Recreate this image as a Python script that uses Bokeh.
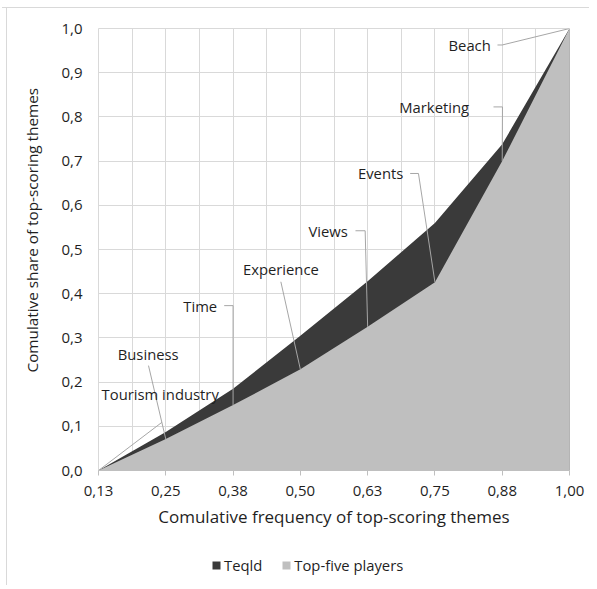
import math
from bokeh.plotting import figure
from bokeh.layouts import column
from bokeh.models import (Range1d, FixedTicker, Legend, LegendItem, Title,
                          CustomJSTickFormatter, ColumnDataSource)
from bokeh.embed import file_html
from bokeh.resources import INLINE
from bokeh.core.properties import value

# ---------------- data ----------------
freq = [0.125, 0.25, 0.375, 0.5, 0.625, 0.75, 0.875, 1.0]
freq_labels = ["0,13", "0,25", "0,38", "0,50", "0,63", "0,75", "0,88", "1,00"]
teqld = [0.0, 0.087, 0.185, 0.305, 0.428, 0.56, 0.738, 1.0]
top_five = [0.0, 0.071, 0.148, 0.229, 0.325, 0.426, 0.70, 1.0]
themes = ["Tourism industry", "Business", "Time", "Experience",
          "Views", "Events", "Marketing", "Beach"]
series_names = ["Teqld", "Top-five players"]
y_ticks = [0.0, 0.1, 0.2, 0.3, 0.4, 0.5, 0.6, 0.7, 0.8, 0.9, 1.0]

# ---------------- layout of annotations (data units) ----------------
label_xy = [(0.2396, 0.174), (0.2173, 0.264), (0.314, 0.373), (0.4638, 0.4565),
            (0.5517, 0.5424), (0.6492, 0.6734), (0.7486, 0.8226), (0.8145, 0.9627)]
leader_from = [[(0.2428, 0.109)],
               [(0.2179, 0.2373)],
               [(0.3585, 0.373), (0.375, 0.373)],
               [(0.4638, 0.427)],
               [(0.6024, 0.5424), (0.6204, 0.5424)],
               [(0.704, 0.672), (0.7194, 0.672)],
               [(0.8588, 0.8226), (0.8755, 0.8226)],
               [(0.8662, 0.9627), (0.8749, 0.9627)]]

FONT = "Open Sans"
TXT = "#1f1f1f"
DARK = "#3a3a3a"
LIGHT = "#bfbfbf"
GRID = "#d9d9d9"
LEAD = "#a6a6a6"

p = figure(width=587, height=532, x_range=Range1d(freq[0], freq[-1]),
           y_range=Range1d(0, 1), output_backend="svg", toolbar_location=None,
           min_border_left=96, min_border_right=20, min_border_top=20,
           min_border_bottom=70)
p.outline_line_color = GRID
p.background_fill_color = "white"
p.border_fill_color = None

r_teq = p.varea(x=freq, y1=[0] * len(freq), y2=teqld, fill_color=DARK)
r_top = p.varea(x=freq, y1=[0] * len(freq), y2=top_five, fill_color=LIGHT)

# grids
grid_x = sorted(freq + [(a + b) / 2 for a, b in zip(freq[:-1], freq[1:])])
p.xgrid.ticker = FixedTicker(ticks=grid_x)
p.ygrid.ticker = FixedTicker(ticks=y_ticks)
for g in (p.xgrid, p.ygrid):
    g.grid_line_color = GRID
    g.grid_line_width = 1

# x axis
xa = p.xaxis[0]
xa.ticker = FixedTicker(ticks=freq)
xa.formatter = CustomJSTickFormatter(args=dict(labels=freq_labels),
                                     code="return labels[index];")
xa.axis_line_color = LIGHT
xa.major_tick_line_color = LIGHT
xa.major_tick_out = 5
xa.major_tick_in = 0
xa.minor_tick_line_color = None
xa.major_label_standoff = 10
xa.major_label_text_font = FONT
xa.major_label_text_font_size = "15px"
xa.major_label_text_color = TXT
xa.axis_label = "Comulative frequency of top-scoring themes"
xa.axis_label_text_font = FONT
xa.axis_label_text_font_size = "17px"
xa.axis_label_text_font_style = "normal"
xa.axis_label_text_color = TXT
xa.axis_label_standoff = 6

# y axis
ya = p.yaxis[0]
ya.ticker = FixedTicker(ticks=y_ticks)
ya.formatter = CustomJSTickFormatter(code="return tick.toFixed(1).replace('.', ',');")
ya.axis_line_color = None
ya.major_tick_line_color = None
ya.minor_tick_line_color = None
ya.major_tick_out = 0
ya.major_label_standoff = 16
ya.major_label_text_font = FONT
ya.major_label_text_font_size = "15px"
ya.major_label_text_color = TXT

p.add_layout(Title(text="Comulative share of top-scoring themes", align="left",
                   offset=98, standoff=33, text_font=FONT, text_font_size="15.3px",
                   text_font_style="normal", text_color=TXT), "left")

# leader lines
xs, ys = [], []
for i, pts in enumerate(leader_from):
    xs.append([q[0] for q in pts] + [freq[i]])
    ys.append([q[1] for q in pts] + [top_five[i]])
p.multi_line(xs=xs, ys=ys, line_color=LEAD, line_width=1)

# theme labels
src = ColumnDataSource(dict(x=[q[0] for q in label_xy], y=[q[1] for q in label_xy], t=themes))
p.text(x="x", y="y", text="t", source=src, text_align="center", text_baseline="middle",
       text_font=value(FONT), text_font_size="14.8px", text_color=TXT)

# ---------------- legend strip ----------------
lg = figure(width=587, height=45, x_range=Range1d(freq[0], freq[-1]), y_range=Range1d(2, 3),
            output_backend="svg", toolbar_location=None,
            x_axis_location=None, y_axis_location=None,
            min_border_left=0, min_border_right=0, min_border_top=0, min_border_bottom=0)
lg.outline_line_color = None
lg.grid.visible = False
lg.border_fill_color = None
lg.background_fill_color = None
d1 = lg.varea(x=freq, y1=[0] * len(freq), y2=teqld, fill_color=DARK)
d2 = lg.varea(x=freq, y1=[0] * len(freq), y2=top_five, fill_color=LIGHT)
legend = Legend(items=[LegendItem(label=series_names[0], renderers=[d1]),
                       LegendItem(label=series_names[1], renderers=[d2])],
                location=(113, 10), orientation="horizontal",
                glyph_width=10, glyph_height=10, label_standoff=3, spacing=19,
                padding=0, margin=0, border_line_color=None, background_fill_alpha=0,
                label_text_font=FONT, label_text_font_size="14.8px", label_text_color=TXT)
lg.add_layout(legend)

layout = column(p, lg, spacing=0)
layout.margin = (7, 0, 0, 2)
layout.styles = {
    "border-top": "1px solid #d9d9d9",
    "background": "linear-gradient(to right, transparent 4px, #d9d9d9 4px, "
                  "#d9d9d9 5px, transparent 5px)",
}

open("out.html", "w").write(file_html(layout, INLINE))
